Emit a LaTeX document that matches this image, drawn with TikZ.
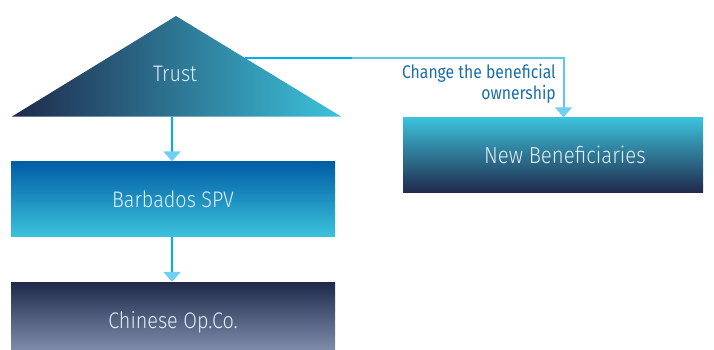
\documentclass[tikz,border=0pt]{standalone}
\usepackage{fontspec}
\setmainfont{Fira Sans}[UprightFont=* Light, FakeStretch=0.88]
\newfontfamily\notefont{Fira Sans}[FakeStretch=0.86]
\usetikzlibrary{arrows.meta}

\definecolor{navy}{HTML}{1F2A4B}
\definecolor{teal}{HTML}{337C94}
\definecolor{aqua}{HTML}{3CC2DC}
\definecolor{royal}{HTML}{005DA5}
\definecolor{slate}{HTML}{8595B5}
\definecolor{wire}{HTML}{00AEEF}
\definecolor{wirelight}{HTML}{5BC8F2}
\definecolor{tipcol}{HTML}{6FD0F4}
\definecolor{labelblue}{HTML}{1A6EA8}
\definecolor{boxtext}{HTML}{E4EEF4}

\tikzset{
  x=1pt, y=-1pt,
  box/.style={rectangle, minimum width=324pt, inner sep=0pt, text=boxtext, font=\fontsize{22.5}{27}\selectfont},
  flow/.style={draw=wire, line width=2.8pt, -{Triangle[width=17pt,length=10pt,color=tipcol]}},
  link/.style={draw=wire, line width=2pt},
  linklight/.style={draw=wirelight, line width=2pt, -{Triangle[width=17pt,length=10pt,color=tipcol]}},
  note/.style={text=labelblue, font=\notefont\fontsize{18.3}{21.5}\selectfont, align=right, inner sep=0pt}
}

\begin{document}
\begin{tikzpicture}
\useasboundingbox (0,0) rectangle (714,349);
\clip (0,0) rectangle (714,349);

% Trust: shaded triangle
\coordinate (apex) at (176,16);
\coordinate (baseL) at (12,116.5);
\coordinate (baseR) at (341,116.5);
\shade[left color=navy, middle color=teal, right color=aqua] (apex) -- (baseR) -- (baseL) -- cycle;
\node[text=boxtext, font=\fontsize{22.5}{27}\selectfont, inner sep=0pt] (trust) at (175,74) {Trust};
\coordinate (trustfoot) at (172,116.5);
\coordinate (trustedge) at (244.5,57.5);
\coordinate (bend) at (352,57.5);

% Boxes
\node[box, minimum height=75pt, top color=royal, bottom color=aqua] (spv) at (173,199) {Barbados SPV};
\node[box, minimum height=80pt, top color=navy, bottom color=slate!92!white] (opco) at (173,322) {Chinese Op.Co.};
\node[box, minimum width=300pt, minimum height=75pt, top color=aqua, bottom color=navy,
      label={[text=boxtext, font=\fontsize{23.2}{27}\selectfont, inner sep=0pt, xshift=12pt]center:New Beneficiaries}] (nb) at (553,155) {};

% Connectors
\draw[flow] (trustfoot) -- (spv.north -| trustfoot);
\draw[flow] (spv.south -| trustfoot) -- (opco.north -| trustfoot);
\draw[link] (trustedge) -- (bend);
\coordinate (drop) at (563.5,57.5);
\draw[linklight] (bend) -- (drop) -- (nb.north -| drop);

% Label on the ownership link
\node[note, anchor=north east] (change) at (556,64) {Change the beneficial\\ownership};
\end{tikzpicture}
\end{document}
